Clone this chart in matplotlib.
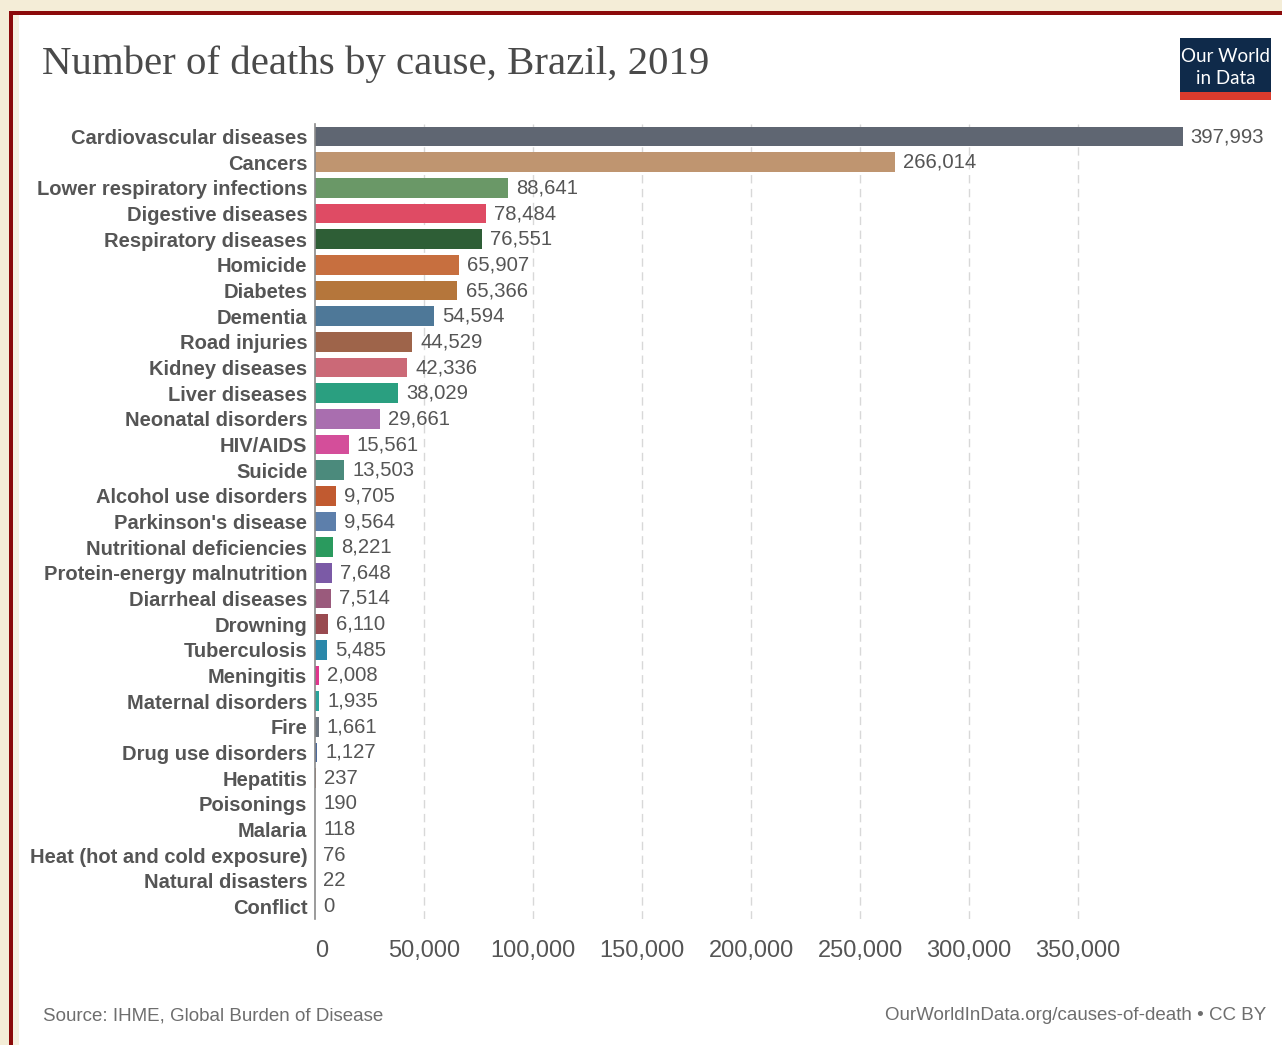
import matplotlib
matplotlib.use("Agg")
import matplotlib.pyplot as plt
from matplotlib.patches import Rectangle
from matplotlib.ticker import FuncFormatter

W, H = 1282, 1045
DPI = 100

causes = [
    "Cardiovascular diseases", "Cancers", "Lower respiratory infections",
    "Digestive diseases", "Respiratory diseases", "Homicide", "Diabetes",
    "Dementia", "Road injuries", "Kidney diseases", "Liver diseases",
    "Neonatal disorders", "HIV/AIDS", "Suicide", "Alcohol use disorders",
    "Parkinson's disease", "Nutritional deficiencies",
    "Protein-energy malnutrition", "Diarrheal diseases", "Drowning",
    "Tuberculosis", "Meningitis", "Maternal disorders", "Fire",
    "Drug use disorders", "Hepatitis", "Poisonings", "Malaria",
    "Heat (hot and cold exposure)", "Natural disasters", "Conflict",
]
deaths = [
    397993, 266014, 88641, 78484, 76551, 65907, 65366, 54594, 44529, 42336,
    38029, 29661, 15561, 13503, 9705, 9564, 8221, 7648, 7514, 6110, 5485,
    2008, 1935, 1661, 1127, 237, 190, 118, 76, 22, 0,
]
colors = [
    "#5f6672", "#bf9570", "#6a9867", "#df4b64", "#2e5e36", "#c76f3f",
    "#b5763b", "#4e7898", "#9e644a", "#cb6977", "#2a9f80", "#a96eaf",
    "#d44e9a", "#4b8a7c", "#c15a30", "#5d7fab", "#2a9a5e", "#7b5aa6",
    "#9a5a7c", "#994a50", "#2b88aa", "#e0368d", "#2aa39b", "#6c7580",
    "#4d6a9a", "#b07050", "#4a7a5a", "#c06070", "#8a6a4a", "#6a8aaa",
    "#888888",
]
xticks = [0, 50000, 100000, 150000, 200000, 250000, 300000, 350000]

title = "Number of deaths by cause, Brazil, 2019"
source = "Source: IHME, Global Burden of Disease"
credit = "OurWorldInData.org/causes-of-death \u2022 CC BY"

TXT = "#555555"

fig = plt.figure(figsize=(W / DPI, H / DPI), dpi=DPI, facecolor="#f4edd7")


def fx(px):
    return px / W


def fy(py):
    return 1 - py / H


# frame: dark red border, cream strip, white panel
fig.patches.append(Rectangle((fx(9), 0), 1, fy(11), transform=fig.transFigure,
                             facecolor="#8b0a0a", edgecolor="none", zorder=-3))
fig.patches.append(Rectangle((fx(13), 0), 1, fy(15), transform=fig.transFigure,
                             facecolor="#f6f0df", edgecolor="none", zorder=-2))
fig.patches.append(Rectangle((fx(19), 0), 1, fy(15), transform=fig.transFigure,
                             facecolor="white", edgecolor="none", zorder=-1))

# axes placement
x0_px = 315
px_per_unit = 763 / 350000
xmax = max(deaths)
right_px = x0_px + xmax * px_per_unit
top_px, bot_px = 123.7, 919.3
ax = fig.add_axes([fx(x0_px), fy(bot_px), (right_px - x0_px) / W, (bot_px - top_px) / H])
ax.set_facecolor("none")

n = len(causes)
ypos = list(range(n))
ax.barh(ypos, deaths, height=0.76, color=colors, edgecolor="none", zorder=3)
ax.set_xlim(0, xmax)
ax.set_ylim(n - 0.5, -0.5)

ax.set_yticks(ypos)
ax.set_yticklabels(causes, fontsize=14.5, fontweight="bold", color=TXT,
                   family="Liberation Sans")
ax.tick_params(axis="y", length=0, pad=5.5)

ax.set_xticks(xticks)
ax.xaxis.set_major_formatter(FuncFormatter(lambda v, p: f"{int(v):,}"))
ax.tick_params(axis="x", length=0, pad=15, labelsize=17, labelcolor=TXT)
xlabs = ax.get_xticklabels()
for lab in xlabs:
    lab.set_family("Liberation Sans")
xlabs[0].set_horizontalalignment("left")

ax.grid(axis="x", color="#d8d8d8", linestyle=(0, (6, 4)), linewidth=1, zorder=0)
ax.xaxis.get_gridlines()[0].set_visible(False)
for s in ["top", "right", "bottom"]:
    ax.spines[s].set_visible(False)
ax.spines["left"].set_color("#8a8a8a")
ax.spines["left"].set_linewidth(1.2)
ax.spines["left"].set_zorder(4)

for y, v in zip(ypos, deaths):
    ax.annotate(f"{v:,}", xy=(v, y), xytext=(5.8, 0), textcoords="offset points",
                va="center", ha="left", fontsize=14.6, color=TXT,
                family="Liberation Sans", annotation_clip=False)

# title
fig.text(fx(42), fy(64), title, fontsize=29.4, color="#4a4a4a",
         family="Liberation Serif", va="center", ha="left")

# logo
fig.patches.append(Rectangle((fx(1180), fy(92)), 91 / W, 54 / H, transform=fig.transFigure,
                             facecolor="#0f2a4a", edgecolor="none"))
fig.patches.append(Rectangle((fx(1180), fy(100)), 91 / W, 8 / H, transform=fig.transFigure,
                             facecolor="#dc3b2d", edgecolor="none"))
fig.text(fx(1225.5), fy(56), "Our World", fontsize=13.5, color="white",
         family="Lato", ha="center", va="center")
fig.text(fx(1225.5), fy(78), "in Data", fontsize=13.5, color="white",
         family="Lato", ha="center", va="center")

# footer
fig.text(fx(43), fy(1016), source, fontsize=13.5, color="#6e6e6e",
         family="Liberation Sans", ha="left", va="center")
fig.text(fx(1266), fy(1016), credit, fontsize=13.5, color="#6e6e6e",
         family="Liberation Sans", ha="right", va="center")

fig.savefig("out.png", dpi=DPI, facecolor=fig.get_facecolor())
